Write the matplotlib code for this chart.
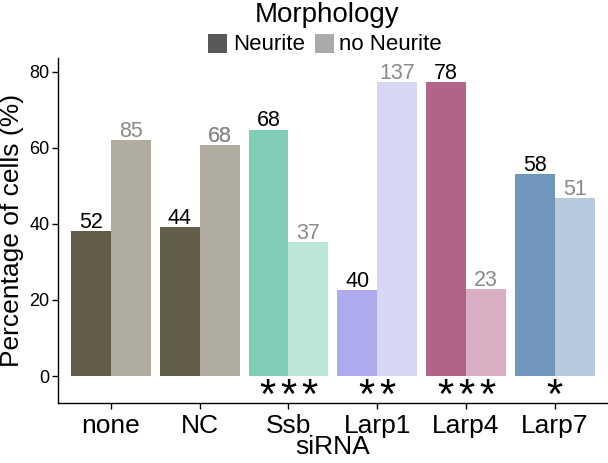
import matplotlib
matplotlib.use("Agg")
import matplotlib.pyplot as plt
from matplotlib.patches import Rectangle
import numpy as np

plt.rcParams['font.family'] = ['Liberation Sans', 'DejaVu Sans']

categories = ["none", "NC", "Ssb", "Larp1", "Larp4", "Larp7"]
neurite_pct = [38.0, 39.3, 64.8, 22.6, 77.2, 53.2]
no_neurite_pct = [62.0, 60.7, 35.2, 77.4, 22.8, 46.8]
neurite_n = [52, 44, 68, 40, 78, 58]
no_neurite_n = [85, 68, 37, 137, 23, 51]
signif = [0, 0, 3, 2, 3, 1]
dark_colors = ["#625c4a", "#625c4a", "#7fcdb6", "#aeaaee", "#b26488", "#7096bb"]
light_colors = ["#b0ada0", "#b0ada0", "#bde6da", "#d7d7f5", "#d9b0c3", "#b7c9dc"]

W, H = 608, 463
fig = plt.figure(figsize=(W / 100, H / 100), dpi=100)
ax = fig.add_axes([57.7 / W, (H - 402.7) / H, 1 - 57.7 / W, (402.7 - 58) / H])

x = np.arange(len(categories))
bw = 0.45
ax.bar(x - bw / 2, neurite_pct, width=bw, color=dark_colors, linewidth=0)
ax.bar(x + bw / 2, no_neurite_pct, width=bw, color=light_colors, linewidth=0)

star_step = 0.237
for i in range(len(categories)):
    ax.text(x[i] - bw / 2, neurite_pct[i] + 0.8, str(neurite_n[i]), ha='center', va='baseline',
            fontsize=15.5, color='black')
    reps = 2 if categories[i] == "NC" else 1
    for _ in range(reps):
        ax.text(x[i] + bw / 2, no_neurite_pct[i] + 0.8, str(no_neurite_n[i]), ha='center',
                va='baseline', fontsize=15.5, color='#8a8a8a')
    n = signif[i]
    for k in range(n):
        xs = x[i] + (k - (n - 1) / 2) * star_step
        ax.text(xs, -5.6, "*", ha='center', va='center', fontsize=30, color='black')

ax.set_xlim(-0.6, len(categories) - 0.4)
ax.set_ylim(-7.0, 83.6)
ax.set_yticks([0, 20, 40, 60, 80])
ax.set_xticks(x)
ax.set_xticklabels(categories, fontsize=19)
ax.tick_params(axis='y', labelsize=13, length=4, width=1, pad=2)
ax.tick_params(axis='x', length=4, width=1, pad=4)
for s in ['top', 'right']:
    ax.spines[s].set_visible(False)
for s in ['left', 'bottom']:
    ax.spines[s].set_linewidth(1)
ax.set_ylabel("Percentage of cells (%)", fontsize=19, labelpad=4)
ax.set_xlabel("siRNA", fontsize=19, labelpad=-2)

# legend
fig.text(327 / W, 1 - 15 / H, "Morphology", ha='center', va='center', fontsize=20)
fig.patches.append(Rectangle((208 / W, 1 - 53 / H), 19 / W, 19 / H, transform=fig.transFigure,
                             facecolor='#595959', edgecolor='none'))
fig.text(233 / W, 1 - 44 / H, "Neurite", ha='left', va='center', fontsize=16)
fig.patches.append(Rectangle((315 / W, 1 - 53 / H), 19 / W, 19 / H, transform=fig.transFigure,
                             facecolor='#aaaaaa', edgecolor='none'))
fig.text(339 / W, 1 - 44 / H, "no Neurite", ha='left', va='center', fontsize=16)

fig.savefig("out.png", dpi=100)
